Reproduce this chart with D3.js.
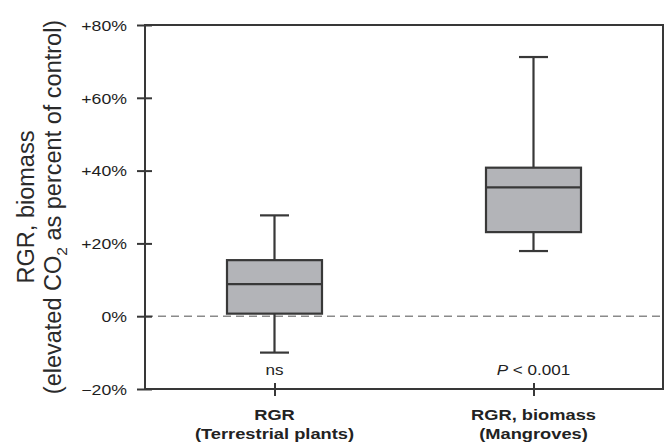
<!DOCTYPE html>
<html lang="en">
<head>
    <meta charset="UTF-8">
    <title>RGR boxplot</title>
    <script src="https://cdnjs.cloudflare.com/ajax/libs/d3/7.9.0/d3.min.js"></script>
    <style>
        body {
            margin: 0;
            background: #fff;
            font-family: 'Liberation Sans', Arial, sans-serif;
        }
        svg { display: block; }
    </style>
</head>
<body>
    <div id="root"></div>
    <script>
        // data (percent change vs control)
        const groups = ['RGR (Terrestrial plants)', 'RGR, biomass (Mangroves)']
        const labelLine1 = ['RGR', 'RGR, biomass']
        const labelLine2 = ['(Terrestrial plants)', '(Mangroves)']
        const whiskerLow = [-10, 17.9]
        const q1 = [0.7, 23.1]
        const median = [8.8, 35.4]
        const q3 = [15.4, 40.8]
        const whiskerHigh = [27.7, 71.2]
        const signif = ['ns', 'P < 0.001']
        const yTicks = [-20, 0, 20, 40, 60, 80]
        const yTickLabels = ['\u221220%', '0%', '+20%', '+40%', '+60%', '+80%']

        const W = 671, H = 446
        const margin = { top: 25, left: 145, right: 8, bottom: 57 }
        const ink = '#383838'
        const sx = 1.22 // the figure's text is a little wide

        const svg = d3.select('#root').append('svg')
            .attr('width', W)
            .attr('height', H)

        const x = d3.scalePoint()
            .domain(groups)
            .range([margin.left, W - margin.right])
            .padding(0.5)

        const y = d3.scaleLinear()
            .domain([-20, 80])
            .range([H - margin.bottom, margin.top])

        // zero line
        svg.append('line')
            .attr('x1', margin.left).attr('x2', W - margin.right)
            .attr('y1', y(0)).attr('y2', y(0))
            .attr('stroke', '#8a8a8a')
            .attr('stroke-width', 1.5)
            .attr('stroke-dasharray', '8,5')

        // Y axis
        const yAxis = svg.append('g')
            .attr('transform', `translate(${margin.left},0)`)
            .call(d3.axisLeft(y).tickValues(yTicks).tickSize(8).tickSizeOuter(0)
                .tickFormat((d, i) => yTickLabels[i]))
        yAxis.select('.domain').remove()
        yAxis.selectAll('.tick line').attr('x1', 7).attr('stroke', ink).attr('stroke-width', 2)
        yAxis.selectAll('.tick text')
            .attr('x', 0)
            .attr('dy', '0.36em')
            .attr('transform', `translate(-18,0) scale(${sx},1)`)
            .style('font-family', "'Liberation Sans', Arial, sans-serif")
            .style('font-size', '14.5px')
            .attr('fill', '#1e1e1e')

        // X axis
        const xAxis = svg.append('g')
            .attr('transform', `translate(0,${y(-20)})`)
            .call(d3.axisBottom(x).tickSize(7).tickSizeOuter(0).tickFormat(''))
        xAxis.select('.domain').remove()
        xAxis.selectAll('.tick line').attr('y1', -6).attr('stroke', ink).attr('stroke-width', 2)
        xAxis.selectAll('.tick text').remove()

        const xLabels = svg.append('g')
            .style('font-size', '15px')
            .style('font-weight', 'bold')
            .attr('fill', '#222')
            .attr('text-anchor', 'middle')
        groups.forEach((g, i) => {
            xLabels.append('text')
                .attr('transform', `translate(${x(g)},420) scale(${sx},1)`)
                .text(labelLine1[i])
            xLabels.append('text')
                .attr('transform', `translate(${x(g)},439) scale(${sx},1)`)
                .text(labelLine2[i])
        })

        // frame
        svg.append('rect')
            .attr('x', margin.left).attr('y', margin.top)
            .attr('width', W - margin.right - margin.left)
            .attr('height', y(-20) - margin.top)
            .attr('fill', 'none')
            .attr('stroke', ink)
            .attr('stroke-width', 2)

        // boxes
        const boxW = 95, capW = 29
        const boxes = svg.append('g')
            .selectAll('g')
            .data(groups)
            .join('g')
            .attr('stroke', ink)
            .attr('stroke-width', 2.2)

        boxes.append('line')
            .attr('x1', d => x(d)).attr('x2', d => x(d))
            .attr('y1', (d, i) => y(whiskerHigh[i]))
            .attr('y2', (d, i) => y(whiskerLow[i]))
        boxes.append('line')
            .attr('x1', d => x(d) - capW / 2).attr('x2', d => x(d) + capW / 2)
            .attr('y1', (d, i) => y(whiskerHigh[i])).attr('y2', (d, i) => y(whiskerHigh[i]))
        boxes.append('line')
            .attr('x1', d => x(d) - capW / 2).attr('x2', d => x(d) + capW / 2)
            .attr('y1', (d, i) => y(whiskerLow[i])).attr('y2', (d, i) => y(whiskerLow[i]))
        boxes.append('rect')
            .attr('x', d => x(d) - boxW / 2)
            .attr('width', boxW)
            .attr('y', (d, i) => y(q3[i]))
            .attr('height', (d, i) => y(q1[i]) - y(q3[i]))
            .attr('fill', '#b3b4b8')
        boxes.append('line')
            .attr('x1', d => x(d) - boxW / 2).attr('x2', d => x(d) + boxW / 2)
            .attr('y1', (d, i) => y(median[i])).attr('y2', (d, i) => y(median[i]))

        // significance notes
        const notes = svg.append('g')
            .style('font-size', '14px')
            .attr('fill', '#222')
            .attr('text-anchor', 'middle')
        groups.forEach((g, i) => {
            const t = notes.append('text')
                .attr('transform', `translate(${x(g)},375) scale(${sx},1)`)
            if (signif[i].startsWith('P')) {
                t.append('tspan').style('font-style', 'italic').text('P')
                t.append('tspan').text(signif[i].slice(1))
            } else {
                t.text(signif[i])
            }
        })

        // Y title
        const cy = (margin.top + y(-20)) / 2
        const title = svg.append('g')
            .style('font-size', '23.5px')
            .attr('fill', '#2a2a2a')
            .attr('text-anchor', 'middle')
        title.append('text')
            .attr('transform', `translate(33.5,${cy}) rotate(-90)`)
            .text('RGR, biomass')
        const t2 = title.append('text')
            .attr('transform', `translate(61,${cy}) rotate(-90)`)
        t2.append('tspan').text('(elevated CO')
        t2.append('tspan').attr('dy', 6).style('font-size', '15.5px').text('2')
        t2.append('tspan').attr('dy', -6).text(' as percent of control)')
    </script>
</body>
</html>
